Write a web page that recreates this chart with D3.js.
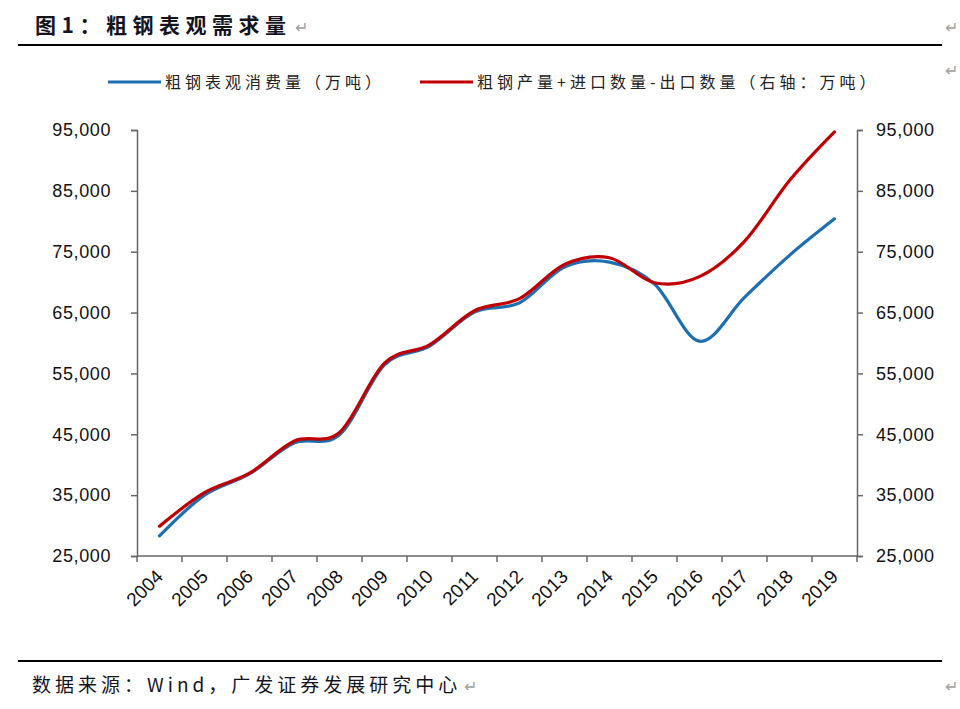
<!DOCTYPE html>
<html>
<head>
<meta charset="utf-8">
<script src="https://cdn.jsdelivr.net/npm/d3@7"></script>
<style>
    body { margin: 0; background: #fff; }
    text { font-family: "Liberation Sans", Arial, sans-serif; }
    .cjk { font-family: "Noto Sans CJK SC", sans-serif; }
</style>
</head>
<body>
<div class="chart-container"></div>
<script>
// Data
const years = ['2004', '2005', '2006', '2007', '2008', '2009', '2010', '2011',
    '2012', '2013', '2014', '2015', '2016', '2017', '2018', '2019'];

// 粗钢表观消费量（万吨）
const consumption = [28300, 35000, 38500, 43600, 44900, 56400, 59500, 65100,
    66600, 72500, 73300, 69700, 60300, 67500, 74400, 80400];

// 粗钢产量+进口数量-出口数量（右轴：万吨）
const supply = [29900, 35400, 38600, 43900, 45300, 56700, 59700, 65300,
    67300, 72900, 74000, 69900, 70900, 76700, 86700, 94700];

const yTicks = [25000, 35000, 45000, 55000, 65000, 75000, 85000, 95000];

const seriesNames = ['粗钢表观消费量（万吨）', '粗钢产量+进口数量-出口数量（右轴：万吨）'];
const seriesColors = ['#1f6eb0', '#c00000'];

// Layout
const width = 960;
const height = 709;
const plot = {left: 137, right: 857, top: 130, bottom: 556};

const svg = d3.select('.chart-container')
    .append('svg')
    .attr('width', width)
    .attr('height', height);

// Scales
const xScale = d3.scaleBand()
    .domain(years)
    .range([plot.left, plot.right]);

const yScale = d3.scaleLinear()
    .domain([25000, 95000])
    .range([plot.bottom, plot.top]);

const cx = d => xScale(d) + xScale.bandwidth() / 2;

// Header
svg.append('text')
    .attr('class', 'cjk')
    .attr('x', 35)
    .attr('y', 33)
    .style('font-size', '21px')
    .style('font-weight', 'bold')
    .style('letter-spacing', '5.5px')
    .style('fill', '#14141f')
    .text('图1：粗钢表观需求量');

svg.append('line')
    .attr('x1', 18).attr('x2', 942)
    .attr('y1', 45).attr('y2', 45)
    .style('stroke', '#000')
    .style('stroke-width', 2);

// Return marks
const marks = [[295, 33, 'start'], [958, 33, 'end'], [958, 76, 'end'], [464, 692, 'start'], [958, 692, 'end']];
svg.selectAll('.mark')
    .data(marks)
    .enter()
    .append('text')
    .attr('class', 'mark cjk')
    .attr('x', d => d[0])
    .attr('y', d => d[1])
    .style('text-anchor', d => d[2])
    .style('font-size', '16px')
    .style('fill', '#a0a0a0')
    .text('↵');

// Legend
const legendX = [108, 420];
const legend = svg.selectAll('.legend')
    .data(seriesNames)
    .enter()
    .append('g')
    .attr('class', 'legend')
    .attr('transform', (d, i) => `translate(${legendX[i]}, 82)`);

legend.append('line')
    .attr('x1', 0).attr('x2', 53)
    .style('stroke', (d, i) => seriesColors[i])
    .style('stroke-width', 3);

legend.append('text')
    .attr('class', 'cjk')
    .attr('x', 57)
    .attr('dy', '0.36em')
    .style('font-size', '16px')
    .style('letter-spacing', '4px')
    .style('fill', '#222')
    .text(d => d);

// Axes
const axisColor = '#666';

const yLeft = d3.axisLeft(yScale)
    .tickValues(yTicks)
    .tickFormat(d3.format(','))
    .tickSize(6)
    .tickPadding(20);

const yRight = d3.axisRight(yScale)
    .tickValues(yTicks)
    .tickFormat(d3.format(','))
    .tickSize(6)
    .tickPadding(13);

function styleAxis(g) {
    g.select('.domain').style('stroke', axisColor).style('stroke-width', 1.5);
    g.selectAll('.tick line').style('stroke', axisColor).style('stroke-width', 1.5);
    g.selectAll('.tick text')
        .style('font-family', '"Liberation Sans", Arial, sans-serif')
        .style('font-size', '18px')
        .style('letter-spacing', '0.6px')
        .style('fill', '#111');
}

svg.append('g')
    .attr('class', 'y axis')
    .attr('transform', `translate(${plot.left}, 0)`)
    .call(yLeft)
    .call(styleAxis);

svg.append('g')
    .attr('class', 'y axis right')
    .attr('transform', `translate(${plot.right}, 0)`)
    .call(yRight)
    .call(styleAxis);

// X axis: line, ticks at band edges, rotated labels at centres
const xAxis = svg.append('g').attr('class', 'x axis');

xAxis.append('line')
    .attr('x1', plot.left).attr('x2', plot.right)
    .attr('y1', plot.bottom).attr('y2', plot.bottom)
    .style('stroke', axisColor)
    .style('stroke-width', 1.5);

xAxis.selectAll('.xtick')
    .data(years.map(d => xScale(d)).concat([xScale.range()[1]]))
    .enter()
    .append('line')
    .attr('class', 'xtick')
    .attr('x1', d => d).attr('x2', d => d)
    .attr('y1', plot.bottom).attr('y2', plot.bottom + 6)
    .style('stroke', axisColor)
    .style('stroke-width', 1.5);

xAxis.selectAll('.xlabel')
    .data(years)
    .enter()
    .append('text')
    .attr('class', 'xlabel')
    .attr('transform', d => `translate(${cx(d)}, ${plot.bottom + 17}) rotate(-45)`)
    .attr('dy', '0.35em')
    .style('text-anchor', 'end')
    .style('font-size', '19px')
    .style('fill', '#111')
    .text(d => d);

// Lines (Excel-style smoothing)
const line = d3.line()
    .x((d, i) => cx(years[i]))
    .y(d => yScale(d))
    .curve(d3.curveCatmullRom.alpha(0));

svg.selectAll('.series')
    .data([consumption, supply])
    .enter()
    .append('path')
    .attr('class', 'series')
    .attr('d', d => line(d))
    .style('fill', 'none')
    .style('stroke', (d, i) => seriesColors[i])
    .style('stroke-width', 3.2)
    .style('stroke-linecap', 'round');

// Footer
svg.append('line')
    .attr('x1', 18).attr('x2', 942)
    .attr('y1', 661).attr('y2', 661)
    .style('stroke', '#000')
    .style('stroke-width', 2);

svg.append('text')
    .attr('class', 'cjk')
    .attr('x', 32)
    .attr('y', 692)
    .style('font-size', '19px')
    .style('letter-spacing', '4px')
    .style('fill', '#14141f')
    .text('数据来源：Wind，广发证券发展研究中心');
</script>
</body>
</html>
